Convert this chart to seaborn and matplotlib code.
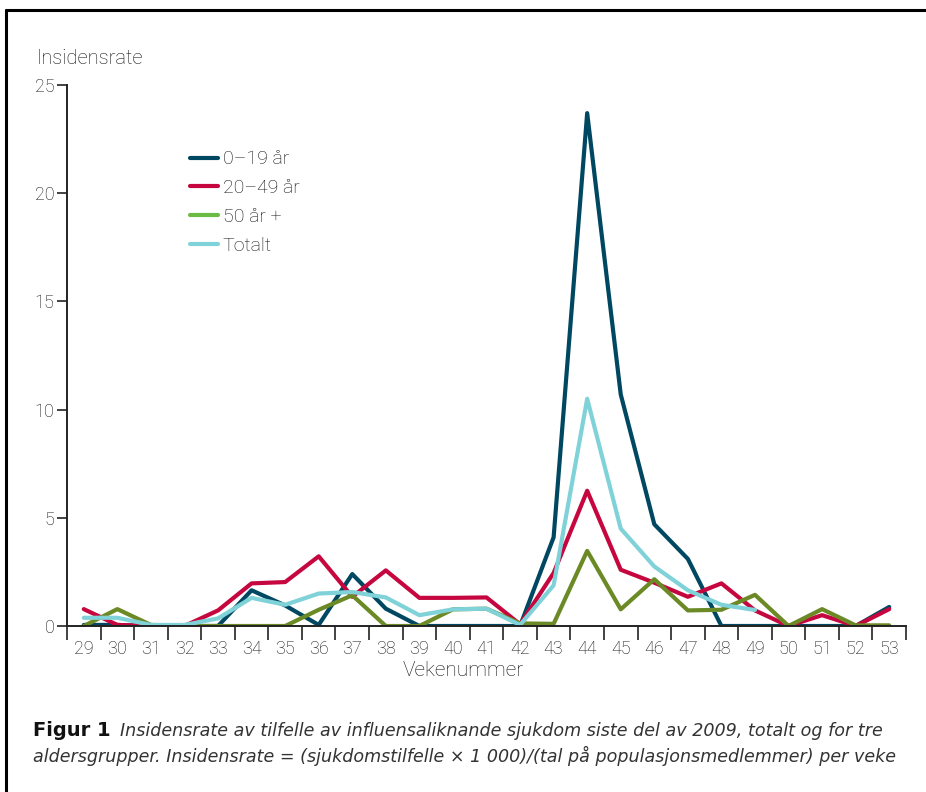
import matplotlib
matplotlib.use("Agg")
import matplotlib.pyplot as plt
from matplotlib.lines import Line2D
import numpy as np
import pandas as pd
import seaborn as sns

weeks = list(range(29, 54))
age_0_19 = [0.05, 0.05, 0.0, 0.0, 0.0, 1.65, 0.95, 0.05, 2.4, 0.8, 0.0, 0.0, 0.0, 0.0,
            4.1, 23.7, 10.7, 4.7, 3.1, 0.0, 0.0, 0.0, 0.0, 0.0, 0.88]
age_20_49 = [0.78, 0.05, 0.0, 0.0, 0.72, 1.97, 2.03, 3.22, 1.35, 2.57, 1.3, 1.3, 1.32, 0.08,
             2.45, 6.25, 2.6, 2.0, 1.35, 1.97, 0.72, 0.0, 0.5, 0.0, 0.78]
age_50 = [0.0, 0.78, 0.05, 0.0, 0.0, 0.0, 0.0, 0.75, 1.42, 0.0, 0.0, 0.77, 0.8, 0.12,
          0.1, 3.47, 0.77, 2.16, 0.72, 0.75, 1.44, 0.0, 0.78, 0.03, 0.03]
totalt = [0.38, 0.38, 0.05, 0.05, 0.35, 1.3, 0.98, 1.5, 1.57, 1.32, 0.5, 0.77, 0.8, 0.05,
          1.88, 10.5, 4.5, 2.75, 1.65, 0.98, 0.74, np.nan, np.nan, np.nan, np.nan]

series_names = ["0\u201319 år", "20\u201349 år", "50 år +", "Totalt"]
line_colors = ["#004862", "#c6063f", "#6b8a25", "#80d2d9"]
legend_colors = ["#004862", "#c6063f", "#6cbb45", "#80d2d9"]

df = pd.concat([
    pd.DataFrame({"week": weeks, "rate": vals, "group": name})
    for name, vals in zip(series_names, [age_0_19, age_20_49, age_50, totalt])
], ignore_index=True)

sns.set_theme(style="white")
plt.rcParams["font.family"] = ["Roboto", "DejaVu Sans"]
plt.rcParams["font.weight"] = "light"

TXT = "#111111"
W, H = 926, 792
fig = plt.figure(figsize=(W / 100, H / 100), dpi=100)
ax = fig.add_axes([67 / W, 1 - 626 / H, (906 - 67) / W, (626 - 85) / H])

sns.lineplot(data=df, x="week", y="rate", hue="group", hue_order=series_names,
             palette=dict(zip(series_names, line_colors)), linewidth=3.0,
             legend=False, ax=ax, sort=False, estimator=None)

ax.set_xlim(28.5, 53.5)
ax.set_ylim(0, 25)
ax.set_xlabel("")
ax.set_ylabel("")
for s in ["top", "right"]:
    ax.spines[s].set_visible(False)
for s in ["left", "bottom"]:
    ax.spines[s].set_color("#222222")
    ax.spines[s].set_linewidth(1.4)

ax.set_xticks(weeks)
ax.set_xticklabels([str(w) for w in weeks])
ax.set_xticks(np.arange(28.5, 54.0, 1.0), minor=True)
ax.tick_params(axis="x", which="major", length=0, pad=10, labelsize=13, labelcolor=TXT)
ax.tick_params(axis="x", which="minor", length=10, width=1.2, color="#222222", direction="out", bottom=True)
ax.set_yticks([0, 5, 10, 15, 20, 25])
ax.tick_params(axis="y", which="major", length=7, width=1.2, color="#222222", direction="out",
               left=True, pad=2, labelsize=13, labelcolor=TXT)

fig.text(37 / W, 1 - 59 / H, "Insidensrate", fontsize=14.5, color=TXT, va="center", ha="left")
fig.text(463 / W, 1 - 671 / H, "Vekenummer", fontsize=15, color=TXT, va="center", ha="center")

handles = [Line2D([0], [0], color=c, lw=3.0) for c in legend_colors]
ax.legend(handles, series_names, loc="upper left", bbox_to_anchor=(172 / W, 1 - 133 / H),
          bbox_transform=fig.transFigure, frameon=False, fontsize=14, handlelength=1.45,
          handletextpad=0.25, labelspacing=0.55, labelcolor=TXT)

cap_font = ["DejaVu Sans"]
fig.text(33 / W, 1 - 731 / H, "Figur 1", fontsize=14, fontweight="bold", family=cap_font,
         color="#111111", va="center", ha="left")
fig.text(120 / W, 1 - 731 / H,
         "Insidensrate av tilfelle av influensaliknande sjukdom siste del av 2009, totalt og for tre",
         fontsize=12.65, style="italic", fontweight="normal", family=cap_font, color="#333333",
         va="center", ha="left")
fig.text(33 / W, 1 - 756 / H,
         "aldersgrupper. Insidensrate = (sjukdomstilfelle × 1 000)/(tal på populasjonsmedlemmer) per veke",
         fontsize=12.65, style="italic", fontweight="normal", family=cap_font, color="#333333",
         va="center", ha="left")

# page frame
fig.add_artist(Line2D([6 / W, 6 / W], [0, 1 - 10 / H], color="black", lw=2.2, transform=fig.transFigure))
fig.add_artist(Line2D([6 / W, 1], [1 - 10 / H, 1 - 10 / H], color="black", lw=2.2, transform=fig.transFigure))

fig.savefig("out.png", dpi=100)
